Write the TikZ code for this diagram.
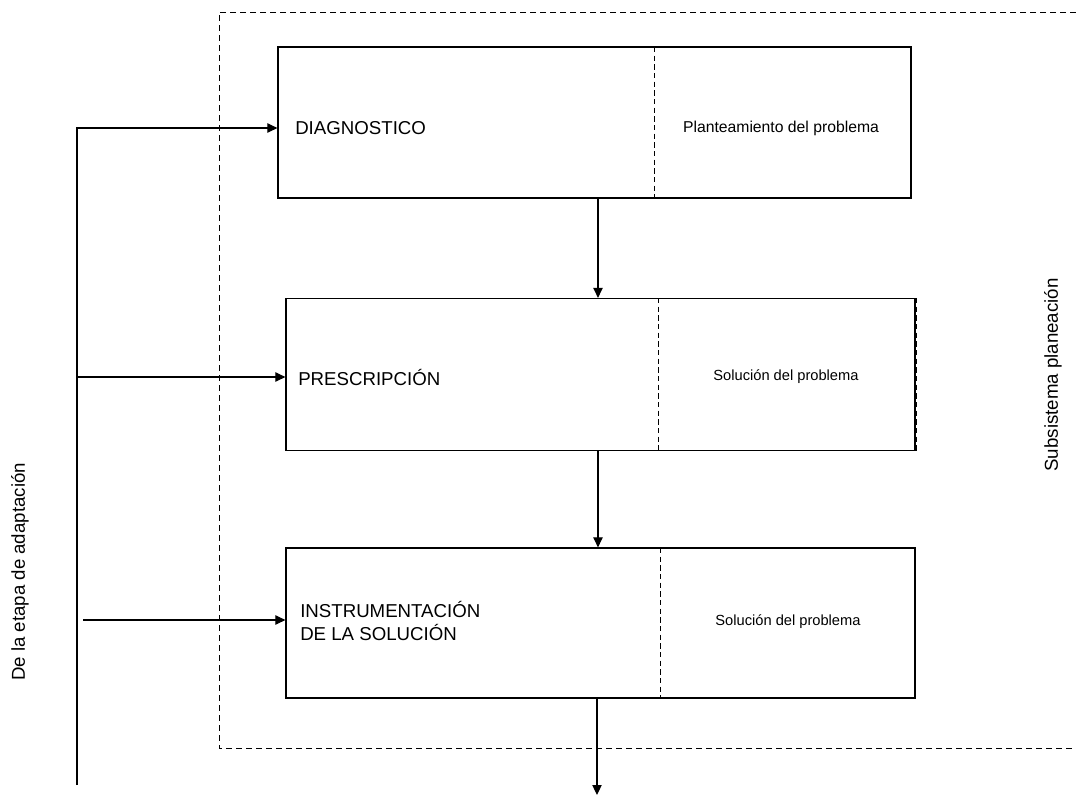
\documentclass[tikz,border=0pt]{standalone}
\usepackage{fontspec}
\setmainfont{Liberation Sans}
\usetikzlibrary{arrows.meta,positioning}

\begin{document}
\begin{tikzpicture}[x=0.75pt,y=-0.75pt,
            etapa/.style={draw, line width=0.9pt, minimum width=471.75pt, minimum height=114pt, inner sep=0pt},
            titulo/.style={anchor=west, inner sep=0pt, align=left, font=\fontsize{14}{17}\selectfont},
            detalle/.style={inner sep=0pt, font=\fontsize{11}{13}\selectfont},
            flecha/.style={-{Triangle[length=7.5pt,width=7pt]}, line width=0.8pt},
            division/.style={line width=0.6pt, dash pattern=on 4pt off 2.5pt},
            marco/.style={line width=0.6pt, dash pattern=on 4.5pt off 3pt},
            lateral/.style={rotate=90, inner sep=0pt, font=\fontsize{14}{17}\selectfont}]

            \useasboundingbox (0,0) rectangle (1076,797);

            \node[etapa, minimum width=474.75pt, minimum height=113.25pt] (diag) at (594.5,122.5) {};
            \node[etapa] (presc) at (600.5,374.5) {};
            \node[etapa, minimum height=112.5pt] (instr) at (600.5,623) {};

            \draw[division] (654,47) -- (654,198);
            \draw[division] (658,298) -- (658,451);
            \draw[division] (660,548) -- (660,698);
            \draw[division] (916,298) -- (916,451);

            \node[titulo] (diagtxt) at (295,128) {DIAGNOSTICO};
            \node[titulo] (presctxt) at (298,377) {PRESCRIPCIÓN};
            \node[titulo] (instrtxt) at (300,621) {INSTRUMENTACIÓN\\DE LA SOLUCIÓN};

            \node[detalle, font=\fontsize{11.8}{13}\selectfont] (planteo) at (781,128) {Planteamiento del problema};
            \node[detalle] (solucion) at (786,377) {Solución del problema};
            \node[detalle] (solucion2) at (788,622) {Solución del problema};

            \coordinate (eje) at (598,0);
            \coordinate (salida) at (597,795);
            \coordinate (tronco) at (77,785);
            \coordinate (entrada) at (83,620);

            \draw[flecha] (diag.south -| eje) -- (presc.north -| eje);
            \draw[flecha] (presc.south -| eje) -- (instr.north -| eje);
            \draw[flecha] (instr.south -| salida) -- (salida);

            \draw[flecha] (tronco) |- (diag.west |- diagtxt);
            \draw[flecha] (tronco |- presctxt) -- (presc.west |- presctxt);
            \draw[flecha] (entrada) -- (instr.west |- entrada);

            \draw[marco] (1076,12) -- (219,12) -- (219,748) -- (1076,748);

            \node[lateral] (subsistema) at (1053,375) {Subsistema planeación};
            \node[lateral] (adaptacion) at (20,572) {De la etapa de adaptación};
        \end{tikzpicture}
\end{document}
